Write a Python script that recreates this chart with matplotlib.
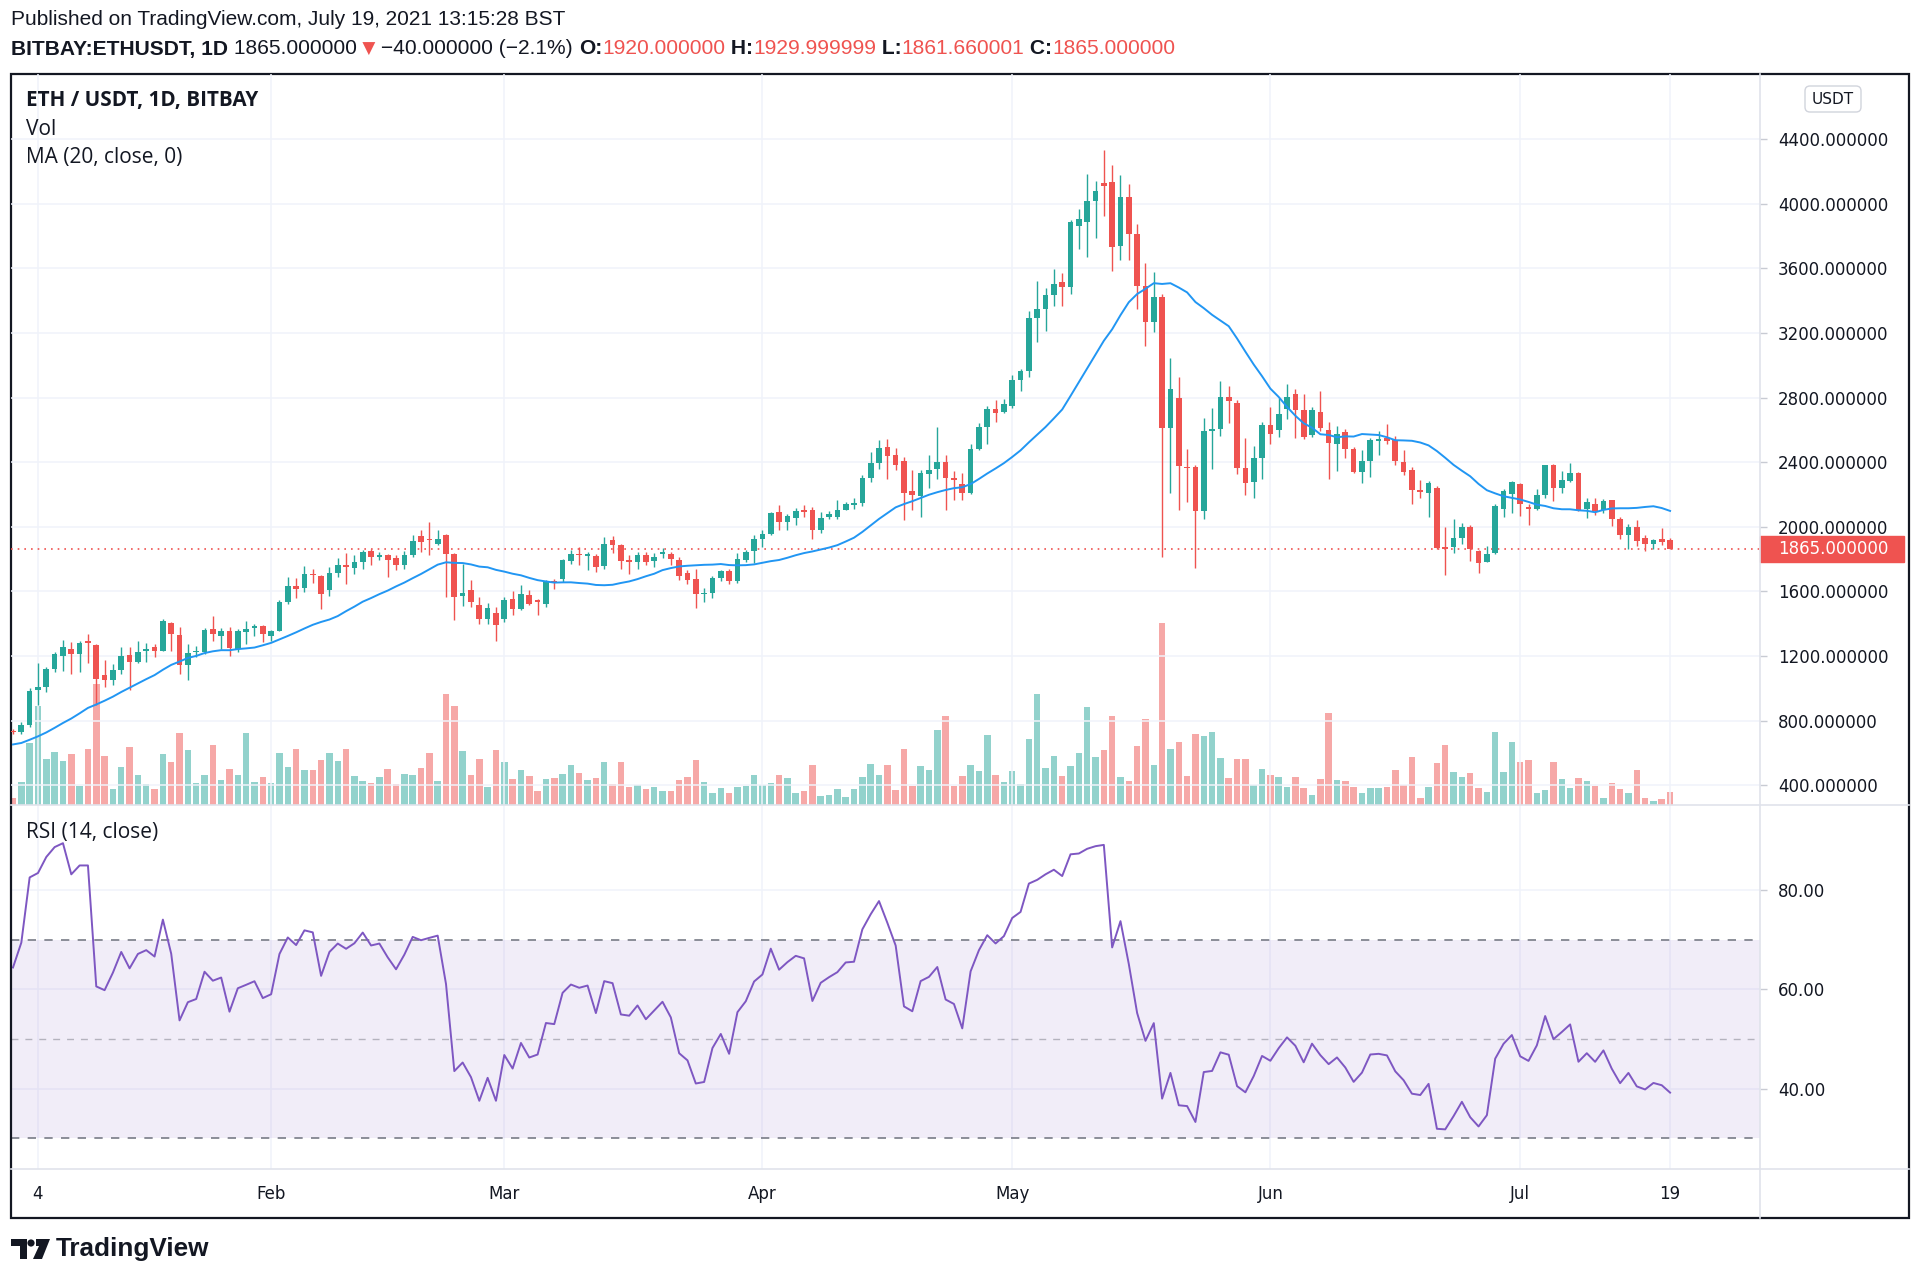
import numpy as np
import matplotlib
matplotlib.use('Agg')
import matplotlib.pyplot as plt
import matplotlib.transforms as mtransforms
from matplotlib import font_manager
from matplotlib.patches import Rectangle, FancyBboxPatch, Polygon, Circle
from matplotlib.lines import Line2D

# ETH/USDT daily candles, 1 Jan - 19 Jul 2021
opens = [738, 728, 771, 987, 1010, 1118, 1200, 1245, 1214, 1292,
         1271, 1080, 1050, 1115, 1208, 1166, 1230, 1255, 1234, 1403,
         1330, 1142, 1222, 1228, 1368, 1321, 1358, 1241, 1350, 1372,
         1384, 1321, 1358, 1533, 1635, 1621, 1710, 1696, 1607, 1714,
         1765, 1745, 1782, 1848, 1813, 1823, 1807, 1765, 1827, 1940,
         1926, 1895, 1947, 1829, 1570, 1611, 1514, 1432, 1469, 1432,
         1555, 1489, 1580, 1545, 1524, 1662, 1679, 1788, 1833, 1817,
         1819, 1755, 1916, 1885, 1792, 1782, 1823, 1788, 1829, 1833,
         1796, 1714, 1675, 1582, 1590, 1685, 1724, 1664, 1796, 1850,
         1926, 1953, 2091, 2029, 2056, 2101, 2107, 1982, 2060, 2060,
         2107, 2135, 2145, 2300, 2393, 2493, 2442, 2407, 2222, 2190,
         2325, 2358, 2401, 2304, 2266, 2211, 2480, 2618, 2732, 2710,
         2746, 2908, 2963, 3293, 3348, 3437, 3513, 3486, 3863, 3885,
         4015, 4126, 4134, 3741, 4039, 3812, 3491, 3269, 3425, 2610,
         2799, 2372, 2368, 2098, 2592, 2604, 2806, 2766, 2363, 2278,
         2428, 2631, 2599, 2727, 2822, 2723, 2570, 2709, 2597, 2514,
         2588, 2480, 2341, 2406, 2529, 2552, 2536, 2401, 2352, 2228,
         2210, 2242, 1875, 1875, 1933, 2001, 1851, 1785, 1836, 2108,
         2200, 2262, 2122, 2108, 2196, 2381, 2242, 2283, 2330, 2108,
         2139, 2102, 2163, 2050, 1947, 2001, 1929, 1892, 1923, 1920]
highs = [748, 790, 1000, 1160, 1132, 1225, 1300, 1286, 1296, 1337,
         1275, 1177, 1152, 1255, 1259, 1290, 1280, 1275, 1430, 1410,
         1378, 1275, 1265, 1372, 1446, 1372, 1378, 1368, 1419, 1399,
         1393, 1360, 1547, 1687, 1683, 1760, 1741, 1703, 1751, 1809,
         1840, 1823, 1854, 1864, 1844, 1833, 1823, 1848, 1947, 1978,
         2032, 1982, 1957, 1835, 1772, 1673, 1565, 1531, 1504, 1565,
         1603, 1638, 1611, 1555, 1669, 1679, 1802, 1854, 1875, 1844,
         1833, 1936, 1940, 1895, 1823, 1844, 1844, 1838, 1868, 1844,
         1813, 1730, 1741, 1623, 1693, 1735, 1741, 1838, 1854, 1947,
         1982, 2091, 2136, 2080, 2118, 2138, 2122, 2091, 2097, 2165,
         2153, 2180, 2320, 2460, 2540, 2542, 2488, 2434, 2352, 2352,
         2447, 2616, 2447, 2347, 2331, 2515, 2645, 2746, 2786, 2792,
         2941, 2976, 3334, 3519, 3478, 3595, 3573, 3898, 3966, 4183,
         4142, 4332, 4237, 4178, 4121, 3877, 3633, 3578, 3440, 3047,
         2930, 2480, 2380, 2676, 2734, 2903, 2874, 2788, 2547, 2502,
         2649, 2739, 2799, 2885, 2856, 2822, 2739, 2840, 2649, 2622,
         2604, 2491, 2476, 2552, 2592, 2637, 2563, 2473, 2368, 2289,
         2284, 2252, 1999, 2046, 2026, 2011, 1855, 1882, 2139, 2235,
         2283, 2272, 2139, 2235, 2385, 2387, 2344, 2396, 2340, 2176,
         2176, 2174, 2166, 2061, 2019, 2042, 1950, 1923, 1991, 1930]
lows = [716, 715, 760, 895, 978, 1100, 1110, 1090, 1101, 1156,
        895, 1008, 1018, 1090, 987, 1155, 1166, 1193, 1230, 1234,
        1090, 1049, 1193, 1214, 1296, 1245, 1203, 1224, 1275, 1327,
        1286, 1296, 1352, 1522, 1557, 1598, 1652, 1493, 1570, 1689,
        1648, 1710, 1741, 1765, 1792, 1689, 1730, 1737, 1813, 1844,
        1823, 1885, 1565, 1425, 1508, 1504, 1401, 1401, 1294, 1411,
        1452, 1483, 1514, 1452, 1504, 1617, 1658, 1772, 1761, 1730,
        1720, 1741, 1840, 1741, 1706, 1741, 1765, 1751, 1809, 1761,
        1669, 1648, 1500, 1535, 1562, 1662, 1648, 1652, 1782, 1778,
        1875, 1947, 1978, 1982, 2009, 2060, 1926, 1963, 2050, 2050,
        2101, 2110, 2130, 2280, 2360, 2298, 2352, 2041, 2103, 2060,
        2239, 2298, 2103, 2168, 2168, 2203, 2475, 2515, 2651, 2705,
        2738, 2841, 2927, 3144, 3215, 3369, 3364, 3443, 3722, 3673,
        3790, 3925, 3586, 3649, 3649, 3348, 3117, 3207, 1810, 2210,
        2104, 2154, 1745, 2046, 2356, 2563, 2644, 2329, 2199, 2176,
        2293, 2514, 2554, 2667, 2547, 2541, 2554, 2592, 2293, 2345,
        2428, 2334, 2273, 2307, 2446, 2514, 2383, 2318, 2143, 2181,
        2059, 1860, 1703, 1836, 1896, 1789, 1713, 1783, 1834, 2061,
        2087, 2067, 2011, 2102, 2176, 2159, 2211, 2280, 2098, 2057,
        2073, 2087, 2005, 1923, 1861, 1882, 1851, 1865, 1886, 1861.66]
closes = [728, 771, 985, 1010, 1120, 1212, 1255, 1212, 1280, 1280,
          1059, 1050, 1115, 1203, 1166, 1228, 1245, 1232, 1415, 1337,
          1142, 1220, 1234, 1364, 1337, 1352, 1249, 1352, 1368, 1384,
          1337, 1352, 1537, 1635, 1615, 1705, 1700, 1586, 1714, 1765,
          1751, 1782, 1844, 1813, 1823, 1792, 1765, 1827, 1912, 1905,
          1916, 1926, 1829, 1565, 1592, 1535, 1432, 1500, 1395, 1549,
          1489, 1586, 1524, 1535, 1658, 1654, 1792, 1833, 1823, 1833,
          1751, 1891, 1885, 1788, 1784, 1823, 1782, 1813, 1844, 1802,
          1693, 1669, 1586, 1590, 1683, 1726, 1664, 1802, 1844, 1926,
          1957, 2085, 2029, 2066, 2097, 2091, 1982, 2056, 2080, 2101,
          2142, 2145, 2300, 2393, 2488, 2439, 2385, 2211, 2195, 2331,
          2352, 2401, 2304, 2290, 2211, 2480, 2618, 2732, 2705, 2759,
          2908, 2963, 3293, 3348, 3432, 3505, 3486, 3885, 3904, 4015,
          4080, 4112, 3730, 4039, 3812, 3491, 3269, 3424, 2610, 2851,
          2374, 2361, 2098, 2592, 2604, 2806, 2777, 2363, 2273, 2428,
          2631, 2574, 2698, 2806, 2723, 2554, 2723, 2610, 2520, 2574,
          2480, 2341, 2406, 2536, 2541, 2529, 2408, 2338, 2228, 2217,
          2273, 1871, 1865, 1929, 1999, 1865, 1779, 1830, 2128, 2221,
          2277, 2139, 2108, 2196, 2381, 2242, 2287, 2334, 2104, 2153,
          2098, 2159, 2046, 1950, 1999, 1912, 1892, 1919, 1906, 1865]
# volume, relative units (bar heights)
volumes = [18, 68, 185, 295, 137, 157, 130, 152, 54, 165,
           362, 145, 46, 112, 172, 88, 60, 47, 152, 127,
           215, 162, 63, 88, 177, 73, 107, 88, 215, 68,
           82, 65, 155, 112, 167, 102, 104, 132, 153, 129,
           167, 84, 70, 63, 82, 107, 60, 90, 87, 110,
           153, 70, 332, 295, 160, 87, 135, 52, 162, 127,
           77, 102, 84, 40, 77, 79, 92, 117, 94, 74,
           79, 127, 60, 127, 53, 58, 47, 52, 40, 40,
           73, 82, 132, 68, 33, 48, 33, 53, 55, 88,
           58, 63, 87, 78, 33, 40, 117, 25, 28, 47,
           22, 47, 82, 120, 87, 117, 42, 165, 55, 114,
           103, 224, 266, 55, 84, 117, 99, 208, 88, 66,
           101, 62, 195, 332, 108, 145, 86, 116, 155, 292,
           141, 162, 266, 83, 70, 174, 257, 118, 543, 165,
           187, 86, 211, 204, 217, 138, 78, 136, 136, 59,
           106, 89, 81, 51, 82, 49, 29, 76, 273, 73,
           71, 51, 33, 48, 48, 53, 102, 57, 142, 19,
           53, 125, 177, 98, 82, 94, 50, 37, 217, 98,
           187, 128, 132, 33, 43, 128, 75, 48, 78, 70,
           55, 20, 63, 45, 35, 102, 20, 10, 15, 38]
# Dec 2020 closes, only to warm up the MA and RSI
dec_closes = [587, 598, 616, 569, 596, 601, 591, 574, 573, 560,
              545, 568, 590, 586, 589, 636, 642, 654, 659, 638,
              609, 634, 584, 612, 626, 635, 683, 731, 731, 752, 737]

tick_days = [3, 31, 59, 90, 120, 151, 181, 199]
tick_labels = ['4', 'Feb', 'Mar', 'Apr', 'May', 'Jun', 'Jul', '19']
price_ticks = list(range(400, 4401, 400))
rsi_ticks = [40, 60, 80]
last_price = 1865.0

GREEN = '#26a69a'
RED = '#ef5350'
DARK = '#131722'
GRID = '#f0f3fa'
SEP = '#e0e3eb'

names = {f.name for f in font_manager.fontManager.ttflist}
narrow = 'Liberation Sans Narrow' if 'Liberation Sans Narrow' in names else 'Liberation Sans'
legend_font = 'Open Sans' if 'Open Sans' in names else 'DejaVu Sans'

W, H = 1920, 1280
fig = plt.figure(figsize=(W / 100, H / 100), dpi=100)
fig.patch.set_facecolor('white')

def fx(px):
    return px / W

def fy(py):
    return 1 - py / H

# pane geometry (pixels)
left, right = 11, 1760
top, mid, bottom, frame_bottom, frame_right = 73.5, 804.5, 1169.4, 1218, 1909

ax_v = fig.add_axes([fx(left), fy(mid), fx(right - left), (mid - top) / H])
ax = fig.add_axes([fx(left), fy(mid), fx(right - left), (mid - top) / H], sharex=ax_v)
ax_r = fig.add_axes([fx(left), fy(bottom), fx(right - left), (bottom - mid) / H], sharex=ax_v)
ax.set_zorder(ax_v.get_zorder() + 1)
ax.patch.set_visible(False)

o = np.array(opens, float)
h = np.array(highs, float)
l = np.array(lows, float)
c = np.array(closes, float)
x = np.arange(len(c))
rising = c >= o
cols = np.where(rising, GREEN, RED)

# volume
ax_v.bar(x, volumes, width=0.78, color=cols, alpha=0.5, linewidth=0)
ax_v.set_ylim(0, max(volumes) * 597 / 148)
ax_v.axis('off')

# candles
ax.vlines(x, l, h, colors=cols, lw=1.0, zorder=3)
body_lo = np.minimum(o, c)
body_h = np.maximum(np.abs(c - o), 8)
ax.bar(x, body_h, bottom=body_lo, width=0.68, color=cols, linewidth=0, zorder=4)

# MA 20
allc = np.array(dec_closes + closes, float)
n0 = len(dec_closes)
ma = np.convolve(allc, np.ones(20) / 20, mode='valid')
ma20 = ma[n0 - 19:]
ax.plot(x, ma20, color='#2196f3', lw=1.4, zorder=5)

# last price line
ax.axhline(last_price, color=RED, lw=1.2, ls=(0, (1, 3)), zorder=2)

ax.set_xlim(-0.24, 209.8)
ax.set_ylim(281, 4806)
ax.set_yticks(price_ticks)
ax.yaxis.set_major_formatter(matplotlib.ticker.FormatStrFormatter('%.6f'))
ax.yaxis.tick_right()
ax.set_xticks(tick_days)
ax.tick_params(axis='x', length=0, labelbottom=False)
ax.tick_params(axis='y', length=5, width=1, color='#c8cbd3', pad=8,
               labelsize=12, labelcolor=DARK)
ax.grid(True, color=GRID, lw=1.1)
for s in ax.spines.values():
    s.set_visible(False)

# RSI 14 (Wilder)
delta = np.diff(allc)
gain = np.clip(delta, 0, None)
loss = np.clip(-delta, 0, None)
ag = np.zeros_like(delta)
al = np.zeros_like(delta)
ag[13] = gain[:14].mean()
al[13] = loss[:14].mean()
for i in range(14, len(delta)):
    ag[i] = (ag[i - 1] * 13 + gain[i]) / 14
    al[i] = (al[i - 1] * 13 + loss[i]) / 14
rsi_all = 100 - 100 / (1 + ag / al)
rsi = rsi_all[n0 - 1:]

ax_r.axhspan(30, 70, color='#7e57c2', alpha=0.1, lw=0, zorder=1)
ax_r.axhline(70, color='#787b86', lw=1.2, ls=(0, (5, 5)), zorder=2)
ax_r.axhline(30, color='#787b86', lw=1.2, ls=(0, (5, 5)), zorder=2)
ax_r.axhline(50, color='#787b86', lw=1.0, ls=(0, (5, 5)), alpha=0.5, zorder=2)
ax_r.plot(x, rsi, color='#7e57c2', lw=1.4, zorder=4)
ax_r.set_ylim(23.7, 97.3)
ax_r.set_yticks(rsi_ticks)
ax_r.yaxis.set_major_formatter(matplotlib.ticker.FormatStrFormatter('%.2f'))
ax_r.yaxis.tick_right()
ax_r.set_xticks(tick_days)
ax_r.set_xticklabels(tick_labels)
ax_r.tick_params(axis='x', length=0, pad=11, labelsize=12, labelcolor=DARK)
ax_r.tick_params(axis='y', length=5, width=1, color='#c8cbd3', pad=8,
                 labelsize=12, labelcolor=DARK)
ax_r.grid(True, color=GRID, lw=1.1, zorder=0)
ax_r.set_axisbelow(True)
for s in ax_r.spines.values():
    s.set_visible(False)

# last price box on the axis
blend = mtransforms.blended_transform_factory(ax.transAxes, ax.transData)
aw = right - left
ppx = (4806 - 281) / (mid - top)
ax.add_patch(Rectangle((1.0, last_price - 13 * ppx), (1904 - right) / aw, 26 * ppx,
                       transform=blend, color=RED, clip_on=False, zorder=6))
ax.text(1.0 + 18 / aw, last_price, '%.6f' % last_price, transform=blend, color='white',
        fontsize=12, va='center', ha='left', zorder=7, clip_on=False)

# frame and separators
fig.add_artist(Line2D([fx(left), fx(frame_right)], [fy(mid), fy(mid)], color=SEP, lw=1.2))
fig.add_artist(Line2D([fx(left), fx(frame_right)], [fy(bottom), fy(bottom)], color=SEP, lw=1.2))
fig.add_artist(Line2D([fx(right), fx(right)], [fy(top), fy(frame_bottom)], color=SEP, lw=1.2))
fig.add_artist(Rectangle((fx(left), fy(frame_bottom)), fx(frame_right - left),
                         (frame_bottom - top) / H, fill=False, ec=DARK, lw=1.6,
                         transform=fig.transFigure))

ident = mtransforms.IdentityTransform()
fig.add_artist(FancyBboxPatch((1805, H - 112), 56, 26, boxstyle='round,pad=0,rounding_size=5',
                              fc='white', ec='#d1d4dc', lw=1.0, transform=ident))
fig.text(fx(1833), fy(99), 'USDT', fontsize=11, color=DARK, ha='center', va='center',
         family='DejaVu Sans')

fig.canvas.draw()
rend = fig.canvas.get_renderer()

def fit(s, target, family, weight='normal', size=14):
    t = fig.text(0, 0, s, fontsize=size, family=family, weight=weight)
    w = t.get_window_extent(renderer=rend).width
    t.remove()
    return size * target / w

# legends in the panes
s_title = fit('ETH / USDT, 1D, BITBAY', 233, legend_font, 'bold')
s_leg = fit('MA (20, close, 0)', 158, legend_font)
fig.text(fx(25.7), fy(100.4), 'ETH / USDT, 1D, BITBAY', fontsize=s_title, weight='bold',
         family=legend_font, color=DARK, va='center')
fig.text(fx(25.7), fy(129.8), 'Vol', fontsize=s_leg, family=legend_font, color=DARK, va='center')
fig.text(fx(25.7), fy(158), 'MA (20, close, 0)', fontsize=s_leg, family=legend_font,
         color=DARK, va='center')
fig.text(fx(25.7), fy(832.7), 'RSI (14, close)', fontsize=s_leg, family=legend_font,
         color=DARK, va='center')

# header
pub = 'Published on TradingView.com, July 19, 2021 13:15:28 BST'
s_pub = fit(pub, 557, narrow)
fig.text(fx(11), fy(19.6), pub, fontsize=s_pub, family=narrow, color=DARK, va='center')

parts = [('BITBAY:ETHUSDT, 1D', DARK, 'bold', narrow),
         (' 1865.000000', DARK, 'normal', narrow),
         (' \u25bc', RED, 'normal', 'DejaVu Sans'),
         (' \u221240.000000 (\u22122.1%) ', DARK, 'normal', narrow),
         ('O:', DARK, 'bold', narrow), ('1920.000000', RED, 'normal', narrow),
         (' H:', DARK, 'bold', narrow), ('1929.999999', RED, 'normal', narrow),
         (' L:', DARK, 'bold', narrow), ('1861.660001', RED, 'normal', narrow),
         (' C:', DARK, 'bold', narrow), ('1865.000000', RED, 'normal', narrow)]

def layout(size):
    xs = 11
    made = []
    for s, col, wt, fam in parts:
        sz = size * 0.8 if fam == 'DejaVu Sans' else size
        t = fig.text(fx(xs), fy(49), s, fontsize=sz, family=fam, weight=wt, color=col,
                     va='center', ha='left')
        xs = t.get_window_extent(renderer=rend).x1
        made.append(t)
    return xs, made

end, made = layout(17)
for t in made:
    t.remove()
layout(17 * (1177 - 11) / (end - 11))

# TradingView logo
ly = lambda py: H - py
fig.add_artist(Polygon([(11, ly(1239)), (27, ly(1239)), (27, ly(1259)), (20, ly(1259)),
                        (20, ly(1246)), (11, ly(1246))], closed=True, fc=DARK, ec='none',
                       transform=ident))
fig.add_artist(Circle((31, ly(1243)), 3.6, fc=DARK, ec='none', transform=ident))
fig.add_artist(Polygon([(36, ly(1239)), (50, ly(1239)), (42, ly(1259)), (33, ly(1259)),
                        (39, ly(1246)), (36, ly(1246))], closed=True, fc=DARK, ec='none',
                       transform=ident))
s_tv = fit('TradingView', 154, 'Liberation Sans', 'bold')
fig.text(fx(56), fy(1249), 'TradingView', fontsize=s_tv, family='Liberation Sans',
         weight='bold', color=DARK, va='center')

fig.savefig('out.png', dpi=100)
